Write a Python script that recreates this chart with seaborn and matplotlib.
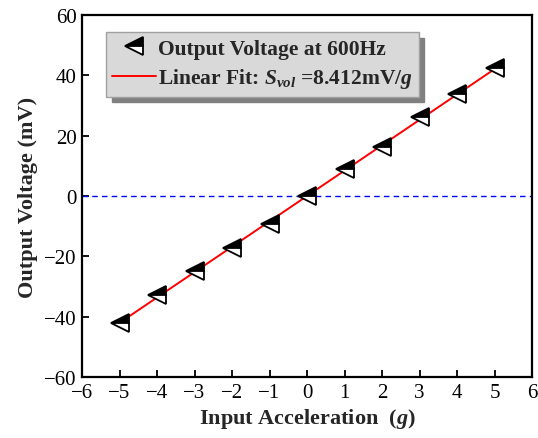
import numpy as np
import pandas as pd
import seaborn as sns
import matplotlib
matplotlib.use("Agg")
import matplotlib.pyplot as plt

# Data
accel = [-5, -4, -3, -2, -1, 0, 1, 2, 3, 4, 5]
voltage = [-42.0, -32.8, -24.7, -17.4, -9.3, 0.0, 9.0, 16.3, 26.1, 33.7, 42.3]
fit_x = [-5, 5]
fit_y = [-42.06, 42.06]
xticks = [-6, -5, -4, -3, -2, -1, 0, 1, 2, 3, 4, 5, 6]
yticks = [-60, -40, -20, 0, 20, 40, 60]

sns.set_theme(style="white")
plt.rcParams['font.family'] = ['Liberation Serif', 'DejaVu Serif']
plt.rcParams['mathtext.fontset'] = 'custom'
plt.rcParams['mathtext.it'] = 'Liberation Serif:italic:bold'
plt.rcParams['mathtext.rm'] = 'Liberation Serif:bold'
plt.rcParams['mathtext.bf'] = 'Liberation Serif:bold'

fig = plt.figure(figsize=(5.38, 4.39), dpi=100)
ax = fig.add_axes([82 / 538, 1 - 378 / 439, 450 / 538, 362 / 439])

df = pd.DataFrame({'x': accel, 'y': voltage})
fit = pd.DataFrame({'x': fit_x, 'y': fit_y})

ax.axhline(0, color='blue', linestyle=(0, (4, 3)), linewidth=1.0, zorder=1)
sns.lineplot(data=fit, x='x', y='y', ax=ax, color='red', linewidth=1.4,
             label=r'Linear Fit: $S_{vol}$ =8.412mV/$g$', zorder=2)
sns.lineplot(data=df, x='x', y='y', ax=ax, linestyle='', marker='<',
             markersize=13.5, color='black', markerfacecolor='black',
             markerfacecoloralt='white', fillstyle='top', markeredgecolor='black',
             markeredgewidth=1.3, label='Output Voltage at 600Hz', zorder=3)

ax.set_xlim(-6, 6)
ax.set_ylim(-60, 60)
ax.set_xticks(xticks)
ax.set_yticks(yticks)
ax.tick_params(direction='in', length=5, width=1.3, labelsize=15, pad=4,
               bottom=True, left=True, top=False, right=False, colors='black')
for s in ax.spines.values():
    s.set_linewidth(1.6)
    s.set_color('black')

ax.set_xlabel(r'Input Acceleration  ($g$)', fontsize=16, fontweight='bold', labelpad=3)
ax.set_ylabel('Output Voltage (mV)', fontsize=16, fontweight='bold', labelpad=4)

handles, labels = ax.get_legend_handles_labels()
order = [1, 0]
leg = ax.legend([handles[i] for i in order], [labels[i] for i in order],
                loc='upper left', bbox_to_anchor=(24 / 450, (378 - 33) / 362),
                prop={'family': 'Liberation Serif', 'weight': 'bold', 'size': 15.5},
                frameon=True, fancybox=False,
                shadow={'color': '#808080', 'alpha': 1.0, 'ox': 4, 'oy': -4},
                facecolor='#d9d9d9', edgecolor='#a0a0a0', framealpha=1.0,
                handlelength=2.0, handletextpad=0.1, borderpad=0.3,
                labelspacing=0.35, borderaxespad=0)
leg.get_frame().set_linewidth(1.0)

fig.savefig('out.png', dpi=100)
